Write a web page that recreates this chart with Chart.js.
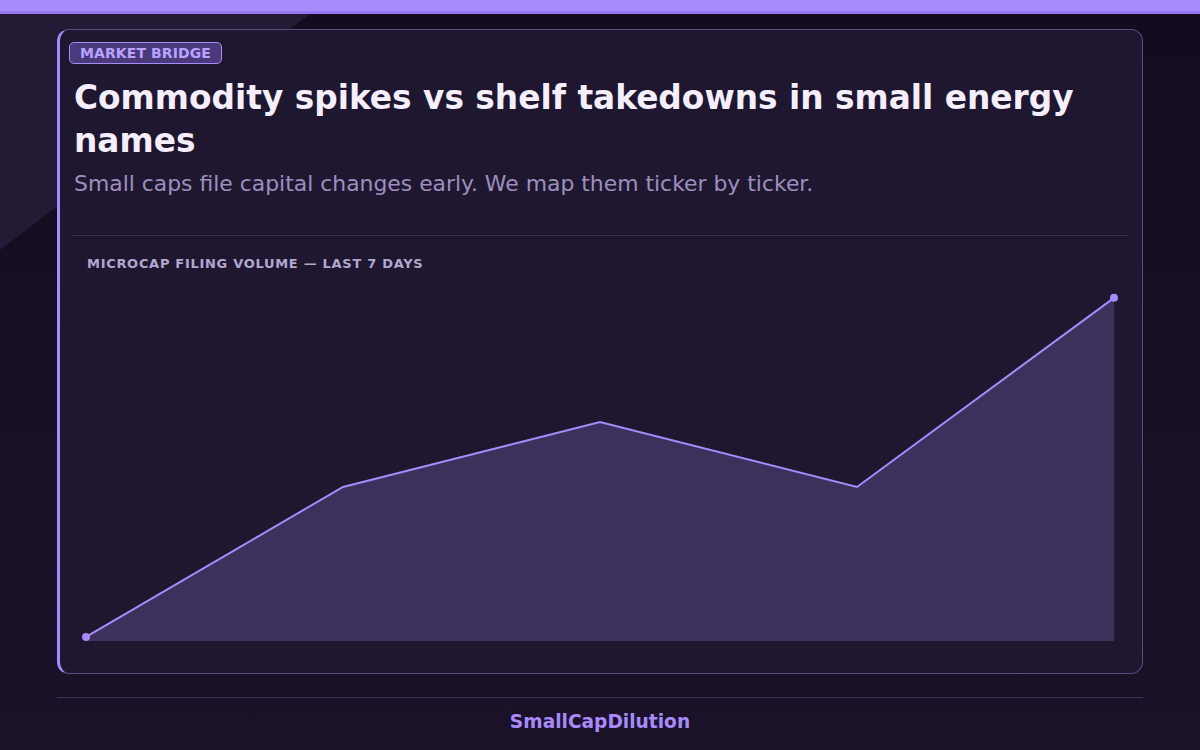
<!DOCTYPE html>
<html>
<head>
<meta charset="utf-8">
<script src="https://cdn.jsdelivr.net/npm/chart.js@4.4.1/dist/chart.umd.min.js"></script>
<style>
  html, body { margin:0; padding:0; }
  body {
    width:1200px; height:750px; overflow:hidden; position:relative;
    background: linear-gradient(180deg, #120c1e 0%, #1b1229 100%);
    font-family: "DejaVu Sans", sans-serif;
  }
  .topbar { position:absolute; left:0; top:0; width:1200px; height:14px; background:#a78bfa; border-bottom:3px solid #9676ee; box-sizing:border-box; }
  .wedge { position:absolute; left:0; top:14px; width:310px; height:236px; background:#231a36; clip-path: polygon(0 0, 100% 0, 0 100%); }
  .card {
    position:absolute; left:57px; top:29px; width:1086px; height:645px; box-sizing:border-box;
    background:#1f1730; border:1px solid #5b4b85; border-left:3px solid #a78bfa; border-radius:12px;
  }
  .badge {
    position:absolute; left:9px; top:12px; height:22px; box-sizing:border-box; padding:0 10px;
    background:#4a3a7c; border:1px solid #a78bfa; border-radius:5px;
    color:#b9a2ff; font-weight:bold; font-size:14px; letter-spacing:0.1px; line-height:20px;
  }
  .title {
    position:absolute; left:14px; top:47px; width:1040px;
    color:#f4eefd; font-weight:bold; font-size:32.8px; line-height:43px; margin:0;
  }
  .sub {
    position:absolute; left:14px; top:140px; color:#9c8fbd; font-size:21.9px; line-height:28px;
  }
  .divider { position:absolute; left:12px; top:205px; width:1056px; height:1px; background:#3b3053; }
  .clabel {
    position:absolute; left:27px; top:226px; color:#b3a6cf; font-weight:bold; font-size:13px; letter-spacing:0.7px;
  }
  .chartwrap { position:absolute; left:20px; top:257px; width:1044px; height:358px; }
  .footline { position:absolute; left:57px; top:697px; width:1086px; height:1px; background:#3b3053; }
  .foot { position:absolute; left:0; width:1200px; top:711px; text-align:center; color:#a78bfa; font-weight:bold; font-size:18.6px; }
</style>
</head>
<body>
<div class="topbar"></div>
<div class="wedge"></div>
<div class="card">
  <div class="badge">MARKET BRIDGE</div>
  <h1 class="title">Commodity spikes vs shelf takedowns in small energy names</h1>
  <div class="sub">Small caps file capital changes early. We map them ticker by ticker.</div>
  <div class="divider"></div>
  <div class="clabel">MICROCAP FILING VOLUME — LAST 7 DAYS</div>
  <div class="chartwrap"><canvas id="c"></canvas></div>
</div>
<div class="footline"></div>
<div class="foot">SmallCapDilution</div>
<script>
const labels = ["D1", "D2", "D3", "D4", "D5"];
const filingVolume = [1.2, 44.9, 63.8, 44.9, 100];
const yMin = 0;
const yMax = 102;

new Chart(document.getElementById('c'), {
  type: 'line',
  data: {
    labels: labels,
    datasets: [{
      data: filingVolume,
      borderColor: '#a78bfa',
      borderWidth: 2,
      backgroundColor: 'rgba(167,139,250,0.22)',
      fill: 'start',
      tension: 0,
      pointRadius: (ctx) => (ctx.dataIndex === 0 || ctx.dataIndex === filingVolume.length - 1) ? 4 : 0,
      pointBackgroundColor: '#a78bfa',
      pointBorderWidth: 0
    }]
  },
  options: {
    responsive: true,
    maintainAspectRatio: false,
    animation: false,
    layout: { padding: { left: 6, right: 10, top: 0, bottom: 0 } },
    plugins: { legend: { display: false }, tooltip: { enabled: false } },
    scales: {
      x: { display: false },
      y: { display: false, min: yMin, max: yMax }
    }
  }
});
</script>
</body>
</html>
